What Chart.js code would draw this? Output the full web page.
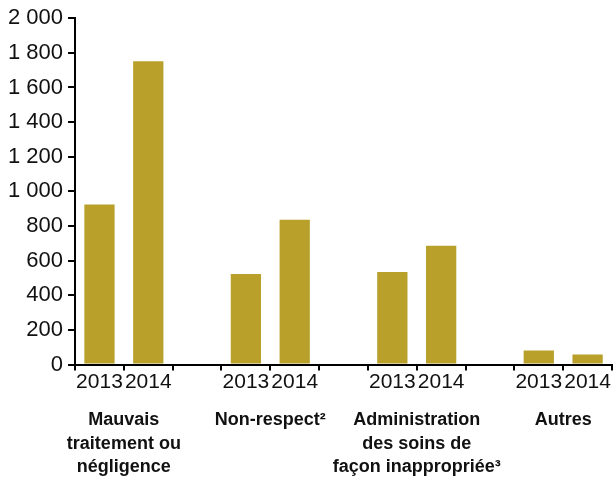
<!DOCTYPE html>
<html>
<head>
<meta charset="utf-8">
<script src="https://cdn.jsdelivr.net/npm/chart.js@4/dist/chart.umd.min.js"></script>
<style>
  html, body { margin: 0; padding: 0; background: #fff; }
  #wrap { width: 613px; height: 480px; position: relative; }
</style>
</head>
<body>
<div id="wrap"><canvas id="plaintesChart"></canvas></div>
<script>
// slots: 2013, 2014, gap, ... for each group
var yearLabels = ['2013', '2014', '', '2013', '2014', '', '2013', '2014', '', '2013', '2014'];
var plaintes = [924, 1752, null, 523, 837, null, 535, 686, null, 81, 58];
var groupLabels = [
    ['Mauvais', 'traitement ou', 'négligence'],
    ['Non-respect²'],
    ['Administration', 'des soins de', 'façon inappropriée³'],
    ['Autres']
];
var groupCenters = [1, 4, 7, 10]; // slot edges, between 2013 and 2014
var yTicks = [0, 200, 400, 600, 800, 1000, 1200, 1400, 1600, 1800, 2000];

var barColor = '#B8A02A';

document.addEventListener("DOMContentLoaded", function () {
    var ctx = document.getElementById('plaintesChart').getContext('2d');

    new Chart(ctx, {
        type: 'bar',
        data: {
            labels: yearLabels,
            datasets: [{
                data: plaintes,
                backgroundColor: barColor,
                borderWidth: 0,
                barPercentage: 0.62,
                categoryPercentage: 1
            }]
        },
        options: {
            responsive: true,
            maintainAspectRatio: false,
            animation: false,
            // padding en bas negatif : l'axe des groupes compte son padding deux fois
            layout: { padding: { top: 16, right: 1, left: 3, bottom: -14 } },
            plugins: {
                legend: { display: false },
                tooltip: { enabled: false }
            },
            scales: {
                y: {
                    min: 0,
                    max: 2000,
                    afterBuildTicks: function (axis) {
                        axis.ticks = yTicks.map(function (v) { return { value: v }; });
                    },
                    border: { color: '#000', width: 2 },
                    grid: {
                        drawOnChartArea: false,
                        drawTicks: true,
                        tickLength: 7,
                        color: '#000',
                        lineWidth: 2
                    },
                    ticks: {
                        color: '#111',
                        padding: 5,
                        font: { family: 'Liberation Sans', size: 22 },
                        callback: function (value) {
                            return String(value).replace(/\B(?=(\d{3})+(?!\d))/g, ' ');
                        }
                    }
                },
                x: {
                    weight: 0,
                    border: { color: '#000', width: 2 },
                    grid: {
                        offset: true,
                        drawOnChartArea: false,
                        drawTicks: true,
                        tickLength: 6,
                        color: '#000',
                        lineWidth: 2
                    },
                    ticks: {
                        color: '#111',
                        padding: -1,
                        maxRotation: 0,
                        autoSkip: false,
                        font: { family: 'Liberation Sans', size: 21 }
                    }
                },
                groupes: {
                    type: 'linear',
                    position: 'bottom',
                    weight: 1,
                    offset: false,
                    min: 0,
                    max: yearLabels.length,
                    afterBuildTicks: function (axis) {
                        axis.ticks = groupCenters.map(function (v) { return { value: v }; });
                    },
                    border: { display: false },
                    grid: { display: false, drawTicks: false },
                    ticks: {
                        color: '#111',
                        padding: 15,
                        maxRotation: 0,
                        autoSkip: false,
                        font: { family: 'Liberation Sans', size: 18, weight: 'bold', lineHeight: 1.3 },
                        callback: function (value) {
                            var i = groupCenters.indexOf(value);
                            return i >= 0 ? groupLabels[i] : '';
                        }
                    }
                }
            }
        }
    });
});
</script>
</body>
</html>
